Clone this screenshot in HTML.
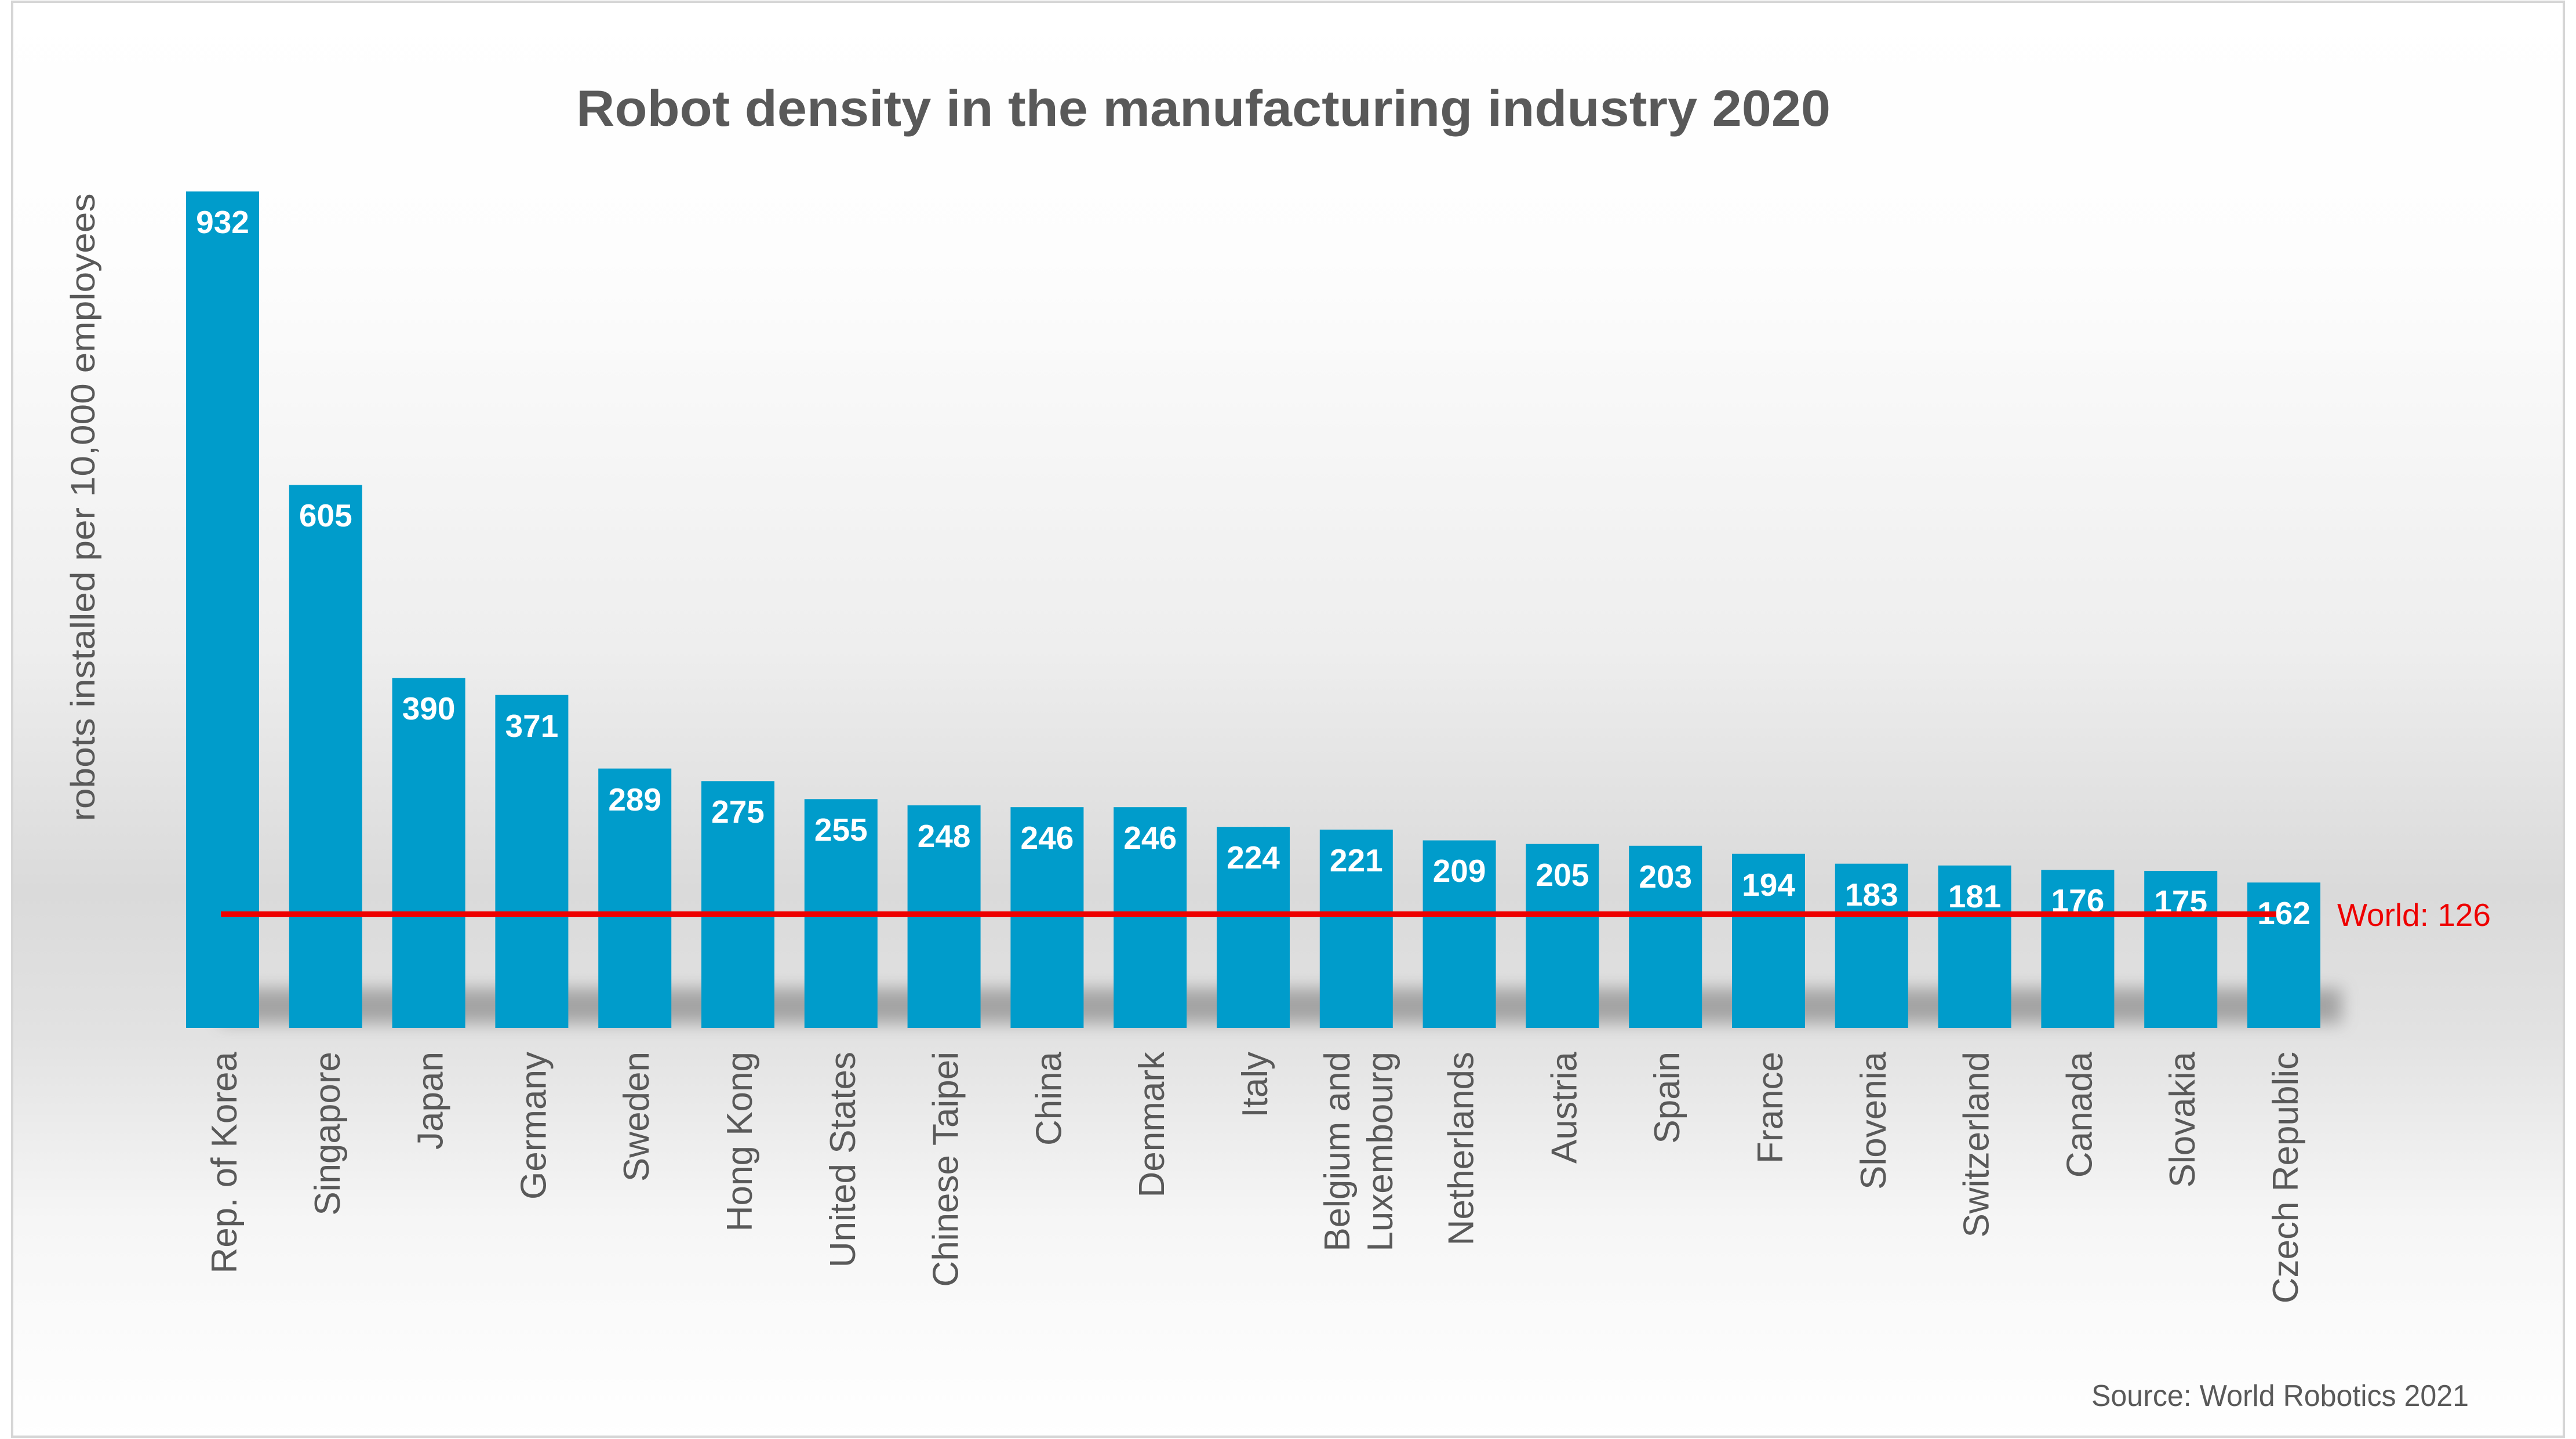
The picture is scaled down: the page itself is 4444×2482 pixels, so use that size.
<!DOCTYPE html>
<html><head><meta charset="utf-8"><style>
html,body{margin:0;padding:0;background:#fff;}
svg{display:block;}
text{font-family:"Liberation Sans",Arial,sans-serif;}
.v{font-size:55px;font-weight:bold;fill:#fff;text-anchor:middle;}
.c{font-size:62px;fill:#595959;text-anchor:end;}
</style></head><body>
<svg width="4444" height="2482" viewBox="0 0 4444 2482" xmlns="http://www.w3.org/2000/svg">
<defs>
<linearGradient id="bg" x1="0" y1="0" x2="0" y2="1">
<stop offset="0" stop-color="#ffffff"/>
<stop offset="0.18" stop-color="#fdfdfd"/>
<stop offset="0.45" stop-color="#eeeeee"/>
<stop offset="0.62" stop-color="#dadada"/>
<stop offset="0.72" stop-color="#e2e2e2"/>
<stop offset="0.85" stop-color="#f6f6f6"/>
<stop offset="1" stop-color="#ffffff"/>
</linearGradient>
<filter id="blur" x="-20%" y="-50%" width="140%" height="200%"><feGaussianBlur stdDeviation="14"/></filter>
</defs>
<rect x="21" y="3" width="4402" height="2475" fill="url(#bg)" stroke="#d6d6d6" stroke-width="4"/>
<text x="2076" y="217" font-size="88" font-weight="bold" fill="#595959" text-anchor="middle" textLength="2164" lengthAdjust="spacingAndGlyphs">Robot density in the manufacturing industry 2020</text>
<text transform="translate(163,875) rotate(-90)" font-size="58" fill="#595959" text-anchor="middle" textLength="1083" lengthAdjust="spacingAndGlyphs">robots installed per 10,000 employees</text>
<rect x="380" y="1705" width="3660" height="60" fill="#8a8a8a" opacity="0.7" filter="url(#blur)"/>
<g fill="#009ccb">
<rect x="321" y="330.3" width="126" height="1442.7"/>
<rect x="498.8" y="836.5" width="126" height="936.5"/>
<rect x="676.6" y="1169.3" width="126" height="603.7"/>
<rect x="854.4" y="1198.7" width="126" height="574.3"/>
<rect x="1032.2" y="1325.6" width="126" height="447.4"/>
<rect x="1210" y="1347.3" width="126" height="425.7"/>
<rect x="1387.8" y="1378.3" width="126" height="394.7"/>
<rect x="1565.6" y="1389.1" width="126" height="383.9"/>
<rect x="1743.4" y="1392.2" width="126" height="380.8"/>
<rect x="1921.2" y="1392.2" width="126" height="380.8"/>
<rect x="2099" y="1426.2" width="126" height="346.8"/>
<rect x="2276.8" y="1430.9" width="126" height="342.1"/>
<rect x="2454.6" y="1449.5" width="126" height="323.5"/>
<rect x="2632.4" y="1455.7" width="126" height="317.3"/>
<rect x="2810.2" y="1458.8" width="126" height="314.2"/>
<rect x="2988" y="1472.7" width="126" height="300.3"/>
<rect x="3165.8" y="1489.7" width="126" height="283.3"/>
<rect x="3343.6" y="1492.8" width="126" height="280.2"/>
<rect x="3521.4" y="1500.6" width="126" height="272.4"/>
<rect x="3699.2" y="1502.1" width="126" height="270.9"/>
<rect x="3877" y="1522.2" width="126" height="250.8"/>
</g>
<g>
<text class="v" x="384" y="402">932</text>
<text class="v" x="561.8" y="908">605</text>
<text class="v" x="739.6" y="1241">390</text>
<text class="v" x="917.4" y="1271">371</text>
<text class="v" x="1095.2" y="1398">289</text>
<text class="v" x="1273" y="1419">275</text>
<text class="v" x="1450.8" y="1450">255</text>
<text class="v" x="1628.6" y="1461">248</text>
<text class="v" x="1806.4" y="1464">246</text>
<text class="v" x="1984.2" y="1464">246</text>
<text class="v" x="2162" y="1498">224</text>
<text class="v" x="2339.8" y="1503">221</text>
<text class="v" x="2517.6" y="1521">209</text>
<text class="v" x="2695.4" y="1528">205</text>
<text class="v" x="2873.2" y="1531">203</text>
<text class="v" x="3051" y="1545">194</text>
<text class="v" x="3228.8" y="1562">183</text>
<text class="v" x="3406.6" y="1565">181</text>
<text class="v" x="3584.4" y="1572">176</text>
<text class="v" x="3762.2" y="1574">175</text>
<text class="v" x="3940" y="1594">162</text>
</g>
<g>
<text class="c" transform="translate(408,1814) rotate(-90)">Rep. of Korea</text>
<text class="c" transform="translate(585.8,1814) rotate(-90)">Singapore</text>
<text class="c" transform="translate(763.6,1814) rotate(-90)">Japan</text>
<text class="c" transform="translate(941.4,1814) rotate(-90)">Germany</text>
<text class="c" transform="translate(1119.2,1814) rotate(-90)">Sweden</text>
<text class="c" transform="translate(1297,1814) rotate(-90)">Hong Kong</text>
<text class="c" transform="translate(1474.8,1814) rotate(-90)">United States</text>
<text class="c" transform="translate(1652.6,1814) rotate(-90)">Chinese Taipei</text>
<text class="c" transform="translate(1830.4,1814) rotate(-90)">China</text>
<text class="c" transform="translate(2008.2,1814) rotate(-90)">Denmark</text>
<text class="c" transform="translate(2186,1814) rotate(-90)">Italy</text>
<text class="c" transform="translate(2327.8,1814) rotate(-90)">Belgium and</text>
<text class="c" transform="translate(2401.8,1814) rotate(-90)">Luxembourg</text>
<text class="c" transform="translate(2541.6,1814) rotate(-90)">Netherlands</text>
<text class="c" transform="translate(2719.4,1814) rotate(-90)">Austria</text>
<text class="c" transform="translate(2897.2,1814) rotate(-90)">Spain</text>
<text class="c" transform="translate(3075,1814) rotate(-90)">France</text>
<text class="c" transform="translate(3252.8,1814) rotate(-90)">Slovenia</text>
<text class="c" transform="translate(3430.6,1814) rotate(-90)">Switzerland</text>
<text class="c" transform="translate(3608.4,1814) rotate(-90)">Canada</text>
<text class="c" transform="translate(3786.2,1814) rotate(-90)">Slovakia</text>
<text class="c" transform="translate(3964,1814) rotate(-90)">Czech Republic</text>
</g>
<line x1="381" y1="1577" x2="3927" y2="1577" stroke="#ee0000" stroke-width="10"/>
<text x="4032" y="1597" font-size="55" fill="#ee0000">World: 126</text>
<text x="3608" y="2425" font-size="52" fill="#595959" textLength="651" lengthAdjust="spacingAndGlyphs">Source: World Robotics 2021</text>
</svg>
</body></html>
